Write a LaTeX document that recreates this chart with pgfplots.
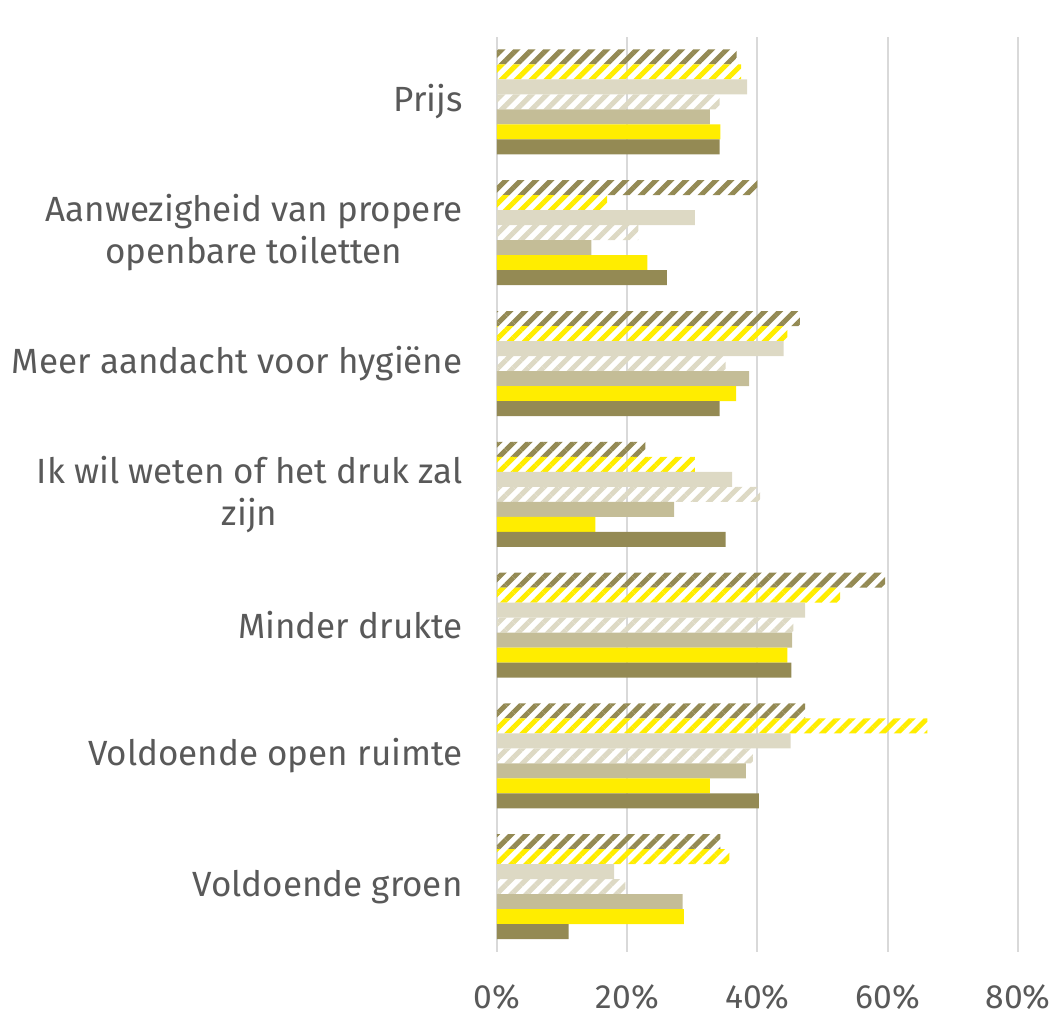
\documentclass[border=0pt]{standalone}
\usepackage{fontspec}
\setmainfont{Fira Sans}
\usepackage{pgfplots}
\pgfplotsset{compat=1.18}
\usetikzlibrary{patterns.meta}
\definecolor{olv}{HTML}{948A54}
\definecolor{ylw}{HTML}{FFED00}
\definecolor{tan}{HTML}{C4BD97}
\definecolor{lbg}{HTML}{DDD9C4}
\definecolor{gridc}{HTML}{D9D9D9}
\definecolor{txt}{HTML}{595959}
\begin{document}
\begin{tikzpicture}
\useasboundingbox (0,0) rectangle (528pt,508pt);
\begin{axis}[
  at={(248.5pt,32pt)}, anchor=south west,
  scale only axis, width=260.5pt, height=457.7pt,
  xmin=0, xmax=80, ymin=-0.5, ymax=6.5,
  xtick={0,20,40,60,80},
  xticklabel={\pgfmathprintnumber{\tick}\%},
  ytick={0,1,2,3,4,5,6},
  yticklabels={Voldoende groen, Voldoende open ruimte, Minder drukte, {Ik wil weten of het druk zal\\zijn}, Meer aandacht voor hygiëne, {Aanwezigheid van propere\\openbare toiletten}, Prijs},
  xmajorgrids, grid style={draw=gridc, line width=1pt},
  axis line style={draw=none},
  major tick length=0pt,
  tick label style={text=txt},
  xticklabel style={font=\fontsize{16.8}{21}\selectfont, yshift=-13pt},
  yticklabel style={font=\fontsize{17.5}{21.2}\selectfont, align=center, xshift=-13.7pt},
  /pgf/number format/assume math mode=true,
  xbar, bar width=7.5pt,
]
\addplot[xbar, bar shift=22.5pt, draw=none, pattern={Lines[angle=45,distance=5.3pt,line width=2.5pt]}, pattern color=olv]
  coordinates {(36.8,6) (40.0,5) (46.5,4) (22.8,3) (59.6,2) (47.3,1) (34.3,0)};
\addplot[xbar, bar shift=15pt, draw=none, pattern={Lines[angle=45,distance=5.3pt,line width=2.5pt]}, pattern color=ylw]
  coordinates {(37.5,6) (16.9,5) (44.6,4) (30.4,3) (52.7,2) (66.1,1) (35.7,0)};
\addplot[xbar, bar shift=7.5pt, draw=none, fill=lbg]
  coordinates {(38.4,6) (30.4,5) (44.0,4) (36.1,3) (47.3,2) (45.1,1) (18.0,0)};
\addplot[xbar, bar shift=0pt, draw=none, pattern={Lines[angle=45,distance=5.3pt,line width=2.5pt]}, pattern color=lbg]
  coordinates {(34.2,6) (21.7,5) (35.1,4) (40.4,3) (45.5,2) (39.3,1) (19.7,0)};
\addplot[xbar, bar shift=-7.5pt, draw=none, fill=tan]
  coordinates {(32.7,6) (14.5,5) (38.7,4) (27.2,3) (45.3,2) (38.2,1) (28.5,0)};
\addplot[xbar, bar shift=-15pt, draw=none, fill=ylw]
  coordinates {(34.3,6) (23.1,5) (36.7,4) (15.1,3) (44.6,2) (32.7,1) (28.7,0)};
\addplot[xbar, bar shift=-22.5pt, draw=none, fill=olv]
  coordinates {(34.2,6) (26.1,5) (34.2,4) (35.1,3) (45.2,2) (40.2,1) (11.0,0)};
\end{axis}
\end{tikzpicture}
\end{document}
